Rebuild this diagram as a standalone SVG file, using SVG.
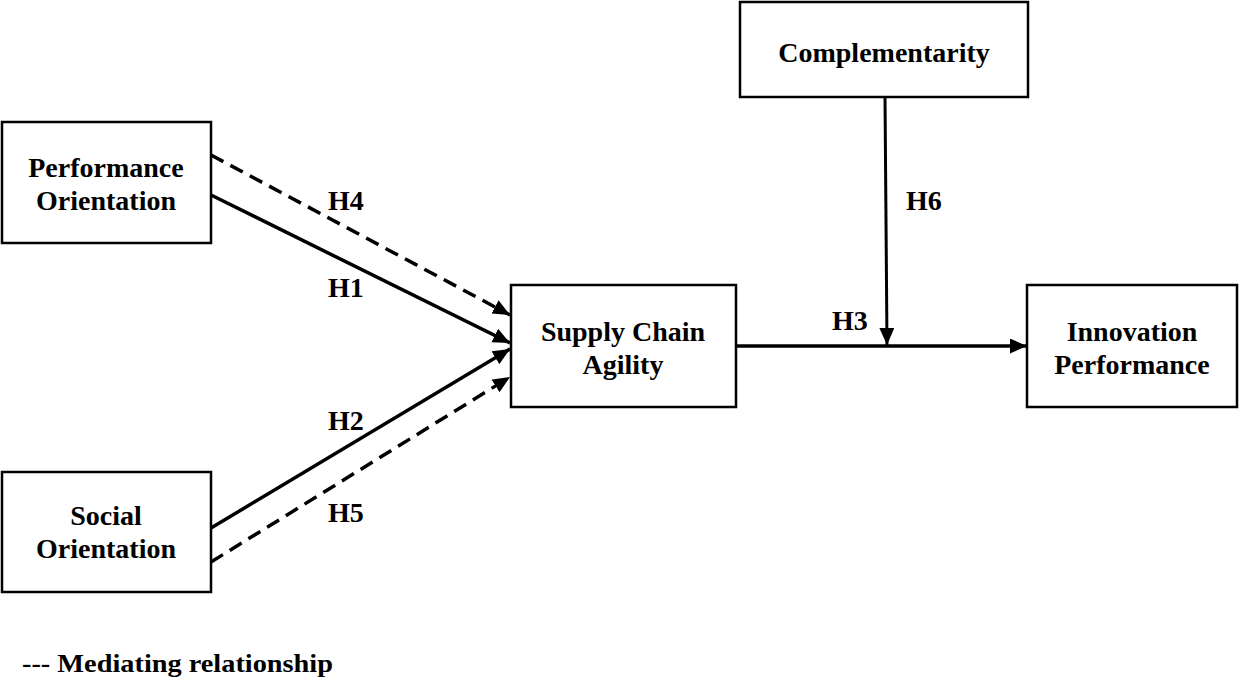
<svg xmlns="http://www.w3.org/2000/svg" width="1239" height="683" viewBox="0 0 1239 683">
<style>
  .box{fill:#fff;stroke:#000;stroke-width:2.5}
  .lbl{font-family:"Liberation Serif","Times New Roman",serif;font-weight:bold;font-size:28px;fill:#000;text-anchor:middle}
  .hl{font-family:"Liberation Serif","Times New Roman",serif;font-weight:bold;font-size:28px;fill:#000}
  .solid{stroke:#000;stroke-width:3.5;fill:none}
  .dash{stroke:#000;stroke-width:3.5;fill:none;stroke-dasharray:14 8}
</style>
<defs>
  <marker id="ah" markerUnits="userSpaceOnUse" markerWidth="18" markerHeight="16" refX="17" refY="7.5" orient="auto">
    <path d="M0,0 L17,7.5 L0,15 z" fill="#000"/>
  </marker>
</defs>
<rect width="1239" height="683" fill="#fff"/>
<g id="connectors">
  <line class="dash" x1="211" y1="155" x2="510" y2="315" marker-end="url(#ah)"/>
  <line class="solid" x1="211" y1="195" x2="510" y2="343" marker-end="url(#ah)"/>
  <line class="solid" x1="211" y1="528" x2="510" y2="349" marker-end="url(#ah)"/>
  <line class="dash" x1="211" y1="562" x2="510" y2="377" marker-end="url(#ah)"/>
  <line class="solid" x1="736" y1="346" x2="1027" y2="346" marker-end="url(#ah)"/>
  <line class="solid" x1="885" y1="97" x2="887" y2="345" marker-end="url(#ah)" style="stroke-width:3"/>
  <text class="hl" x="328" y="210">H4</text>
  <text class="hl" x="328" y="297">H1</text>
  <text class="hl" x="328" y="430">H2</text>
  <text class="hl" x="328" y="522">H5</text>
  <text class="hl" x="832" y="330">H3</text>
  <text class="hl" x="906" y="210">H6</text>
</g>
<g id="performance-orientation">
  <rect class="box" x="2" y="122" width="209" height="121"/>
  <text class="lbl" x="106" y="177">Performance</text>
  <text class="lbl" x="106" y="210">Orientation</text>
</g>
<g id="social-orientation">
  <rect class="box" x="2" y="472" width="209" height="120"/>
  <text class="lbl" x="106" y="525">Social</text>
  <text class="lbl" x="106" y="558">Orientation</text>
</g>
<g id="supply-chain-agility">
  <rect class="box" x="511" y="285" width="225" height="122"/>
  <text class="lbl" x="623" y="341">Supply Chain</text>
  <text class="lbl" x="623" y="374">Agility</text>
</g>
<g id="innovation-performance">
  <rect class="box" x="1027" y="285" width="210" height="122"/>
  <text class="lbl" x="1132" y="341">Innovation</text>
  <text class="lbl" x="1132" y="374">Performance</text>
</g>
<g id="complementarity">
  <rect class="box" x="740" y="2" width="288" height="95"/>
  <text class="lbl" x="884" y="62">Complementarity</text>
</g>
<g id="legend">
  <text class="hl" x="22" y="672" style="font-size:25px" textLength="311" lengthAdjust="spacingAndGlyphs">--- Mediating relationship</text>
</g>
</svg>
